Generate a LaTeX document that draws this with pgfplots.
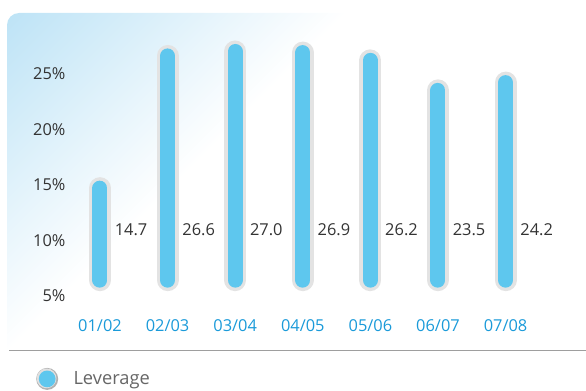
\documentclass[border=0pt]{standalone}
\usepackage{pgfplots}
\pgfplotsset{compat=1.18}
\usepackage{pgfplotstable}
\usepackage{fontspec}
\setmainfont{Open Sans}
\definecolor{barblue}{HTML}{5EC7EE}
\definecolor{bargray}{HTML}{E3E3E3}
\definecolor{labblue}{HTML}{1A9AD9}
\definecolor{bgblue}{HTML}{BDE3F6}
\definecolor{txt}{HTML}{333333}
\definecolor{legtxt}{HTML}{666666}
\pgfdeclarehorizontalshading{bgshade}{100bp}{color(0bp)=(bgblue); color(25bp)=(bgblue); color(40bp)=(bgblue!70!white); color(58bp)=(bgblue!33!white); color(75bp)=(white); color(100bp)=(white)}

% bar values
\pgfplotstableread{
x v
0 14.7
1 26.6
2 27.0
3 26.9
4 26.2
5 23.5
6 24.2
}\datatable

% bars as segments from base 6.42 to value, separated by jumps
\pgfplotstableread{
x y
0 6.42
0 14.7
0 nan
1 6.42
1 26.6
1 nan
2 6.42
2 27.0
2 nan
3 6.42
3 26.9
3 nan
4 6.42
4 26.2
4 nan
5 6.42
5 23.5
5 nan
6 6.42
6 24.2
}\bartable

\begin{document}
\begin{tikzpicture}[x=0.75pt,y=0.75pt]
\useasboundingbox (0,0) rectangle (586,390);
\begin{scope}
  \clip (7,40) -- (7,365) arc[start angle=180, end angle=90, radius=12] -- (586,377) -- (586,40) -- cycle;
  \begin{scope}[transform canvas={rotate around={-45:(7,377)}}]
    \shade[shading=bgshade] (7,-323) rectangle (247,1077);
  \end{scope}
\end{scope}
\draw[draw=black!38, line width=1.1pt] (9,39.5) -- (586,39.5);
\begin{axis}[
  at={(49.65pt,58.05pt)}, anchor=south west,
  scale only axis, width=354.9pt, height=212.5pt,
  xmin=-0.5, xmax=6.5, ymin=3.5, ymax=29,
  clip=false,
  axis line style={draw=none},
  major tick length=0pt,
  xtick={0,1,2,3,4,5,6},
  xticklabels={01/02,02/03,03/04,04/05,05/06,06/07,07/08},
  ytick={5,10,15,20,25},
  yticklabel={\pgfmathprintnumber{\tick}\%},
  /pgf/number format/assume math mode=true,
  tick label style={font=\fontsize{12.3}{14}\selectfont},
  xticklabel style={text=labblue, yshift=-2pt},
  yticklabel style={text=txt, xshift=3pt},
  unbounded coords=jump,
  legend style={at={(axis description cs:-0.064,-0.234)}, anchor=west, draw=none, fill=none,
    inner sep=0pt, font=\fontsize{13.7}{16}\selectfont, text=legtxt},
  legend image code/.code={
    \path[draw=none, fill=none] (0pt,-9pt) rectangle (26pt,9pt);
    \fill[black!30, draw=none] (8.25pt,0pt) circle (8.25pt);
    \fill[black!12, draw=none] (7.8pt,0.4pt) circle (7.4pt);
    \fill[barblue, draw=none] (8.25pt,0pt) circle (6.3pt);
  },
]
\addplot[forget plot, draw=bargray, line width=16.5pt, line cap=round, mark=none] table[x=x, y=y] {\bartable};
\addplot[forget plot, draw=barblue, line width=11.25pt, line cap=round, mark=none] table[x=x, y=y] {\bartable};
\addplot[forget plot, draw=none, mark=none, nodes near coords, point meta=explicit,
  nodes near coords style={anchor=center, text=txt, font=\fontsize{12.3}{14}\selectfont,
    /pgf/number format/.cd, fixed, fixed zerofill, precision=1, assume math mode=true}]
  table[x expr=\thisrow{x}+0.46, y expr=11, meta=v] {\datatable};
\addlegendimage{draw=none, fill=none}
\addlegendentry{Leverage}
\end{axis}
\end{tikzpicture}
\end{document}
